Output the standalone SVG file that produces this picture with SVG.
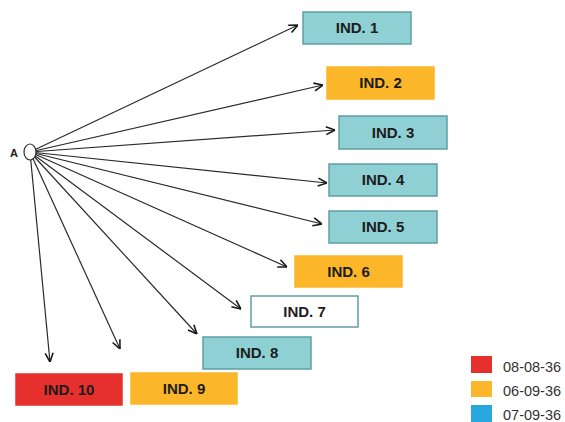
<svg xmlns="http://www.w3.org/2000/svg" width="565" height="422" viewBox="0 0 565 422">
<style>
.box{stroke-width:1.5}
.teal{fill:#8fd0d4;stroke:#5f9ea6}
.orange{fill:#fbb62a;stroke:#fbb62a}
.red{fill:#e6302d;stroke:#e6302d}
.white{fill:#ffffff;stroke:#5f9ea6}
.lbl{font-family:"Liberation Sans",Arial,sans-serif;font-weight:bold;font-size:15px;fill:#1c1c1c;text-anchor:middle}
.leg{font-family:"Liberation Sans",Arial,sans-serif;font-size:14.5px;fill:#333333}
.conn line{stroke:#2a2a2a;stroke-width:1.2;marker-end:url(#ah)}
</style>
<defs>
<marker id="ah" viewBox="0 0 10 10" refX="10" refY="5" markerWidth="10" markerHeight="10" markerUnits="userSpaceOnUse" orient="auto">
<path d="M1,1 L10,5 L1,9" fill="none" stroke="#1a1a1a" stroke-width="1.6"/>
</marker>
</defs>
<rect width="565" height="422" fill="#ffffff"/>
<g id="connectors" class="conn">
<line x1="30" y1="152" x2="298" y2="25"/>
<line x1="30" y1="152" x2="323" y2="85"/>
<line x1="30" y1="152" x2="335" y2="130"/>
<line x1="30" y1="152" x2="327" y2="183"/>
<line x1="30" y1="152" x2="322" y2="224"/>
<line x1="30" y1="152" x2="287" y2="267"/>
<line x1="30" y1="152" x2="241" y2="309"/>
<line x1="30" y1="152" x2="197" y2="334"/>
<line x1="30" y1="152" x2="120" y2="349"/>
<line x1="30" y1="152" x2="50" y2="362"/>
</g>
<g id="A">
<ellipse cx="30" cy="152" rx="6" ry="8" fill="#ffffff" stroke="#333333" stroke-width="1.2"/>
<text x="14" y="157" font-family="Liberation Sans,Arial,sans-serif" font-weight="bold" font-size="11" fill="#1c1c1c" text-anchor="middle">A</text>
</g>
<g id="ind1"><rect class="box teal" x="303" y="12" width="108" height="32"/><text class="lbl" x="357" y="33">IND. 1</text></g>
<g id="ind2"><rect class="box orange" x="327" y="67" width="107" height="32"/><text class="lbl" x="380.5" y="88">IND. 2</text></g>
<g id="ind3"><rect class="box teal" x="339" y="116" width="108" height="33"/><text class="lbl" x="393" y="137.5">IND. 3</text></g>
<g id="ind4"><rect class="box teal" x="329" y="164" width="108" height="32"/><text class="lbl" x="383" y="185">IND. 4</text></g>
<g id="ind5"><rect class="box teal" x="329" y="211" width="108" height="32"/><text class="lbl" x="383" y="232">IND. 5</text></g>
<g id="ind6"><rect class="box orange" x="295" y="256" width="107" height="31"/><text class="lbl" x="348.5" y="276.5">IND. 6</text></g>
<g id="ind7"><rect class="box white" x="251" y="296" width="107" height="31"/><text class="lbl" x="304.5" y="316.5">IND. 7</text></g>
<g id="ind8"><rect class="box teal" x="203" y="337" width="108" height="32"/><text class="lbl" x="257" y="358">IND. 8</text></g>
<g id="ind9"><rect class="box orange" x="131" y="373" width="106" height="31"/><text class="lbl" x="184" y="393.5">IND. 9</text></g>
<g id="ind10"><rect class="box red" x="16" y="374" width="106" height="31"/><text class="lbl" x="69" y="394.5">IND. 10</text></g>
<g id="legend">
<rect x="471" y="356" width="21" height="17" fill="#e6302d"/>
<text class="leg" x="503" y="372">08-08-36</text>
<rect x="471" y="381" width="21" height="16" fill="#fbb62a"/>
<text class="leg" x="503" y="396">06-09-36</text>
<rect x="471" y="405" width="21" height="17" fill="#29a8e0"/>
<text class="leg" x="503" y="420">07-09-36</text>
</g>
</svg>
